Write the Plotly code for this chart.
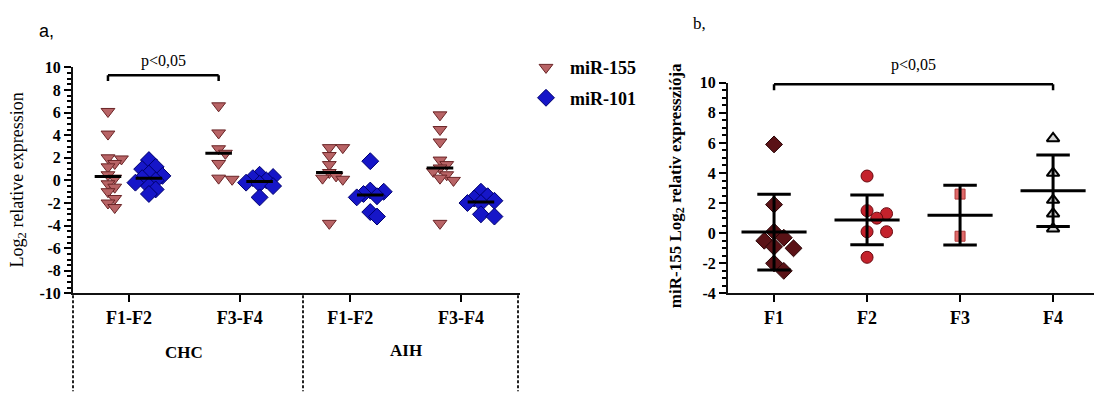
import numpy as np
import plotly.graph_objects as go

W, H = 1094, 403

# ---------------- data: panel a ----------------
groups_a = ["CHC", "AIH"]
categories_a = ["F1-F2", "F3-F4", "F1-F2", "F3-F4"]
series_a = ["miR-155", "miR-101"]
mir155 = [
    [6.1, 4.1, 2.0, 1.9, 1.5, 1.2, 0.5, 0.2, -0.3, -0.6, -1.0, -1.6, -2.0, -2.4],
    [6.6, 4.2, 2.8, 2.4, 1.5, 0.2, 0.1],
    [2.9, 2.9, 2.2, 1.4, 0.7, 0.4, 0.2, 0.1, -3.8],
    [5.8, 4.5, 3.4, 1.8, 1.4, 1.1, 0.8, 0.5, 0.2, 0.0, -3.8],
]
mir101 = [
    [1.8, 1.2, 1.0, 0.6, 0.4, 0.2, 0.0, -0.2, -0.5, -0.8, -1.2],
    [0.5, 0.3, 0.2, 0.0, -0.2, -0.3, -0.5, -1.5],
    [1.7, -0.9, -1.0, -1.2, -1.4, -1.5, -2.8, -3.2],
    [-1.0, -1.4, -1.6, -1.8, -2.0, -2.0, -3.0, -3.2],
]
yticks_a = [10, 8, 6, 4, 2, 0, -2, -4, -6, -8, -10]

# ---------------- data: panel b ----------------
categories_b = ["F1", "F2", "F3", "F4"]
b_values = [
    [5.9, 1.9, 0.1, -0.3, -0.5, -0.9, -1.0, -2.0, -2.5],
    [3.8, 1.5, 1.3, 1.0, 0.1, 0.1, -1.6],
    [2.6, -0.2],
    [6.3, 4.0, 2.2, 1.3, 0.3],
]
yticks_b = [10, 8, 6, 4, 2, 0, -2, -4]
p_text = "p<0,05"

SERIF = "Liberation Serif"


def px_x(px):
    return px / W


def px_y(py):
    return 1 - py / H


def swarm(vals, xscale, yscale, size):
    vals = np.asarray(vals, float)
    order = np.argsort(-vals)
    placed = []
    off = np.zeros(len(vals))
    cands = [0]
    for j in range(1, 12):
        cands += [j, -j]
    for i in order:
        y = vals[i] * yscale
        x = 0.0
        for c in cands:
            x = c * size * 0.75
            if all((x - a) ** 2 + (y - b) ** 2 >= (size * 0.8) ** 2 for a, b in placed):
                break
        placed.append((x, y))
        off[i] = x
    return off / xscale


fig = go.Figure()

# panel a geometry
xa_dom = [px_x(73), px_x(520)]
ya_dom = [px_y(298), px_y(62)]
xa_rng = [0.494, 4.533]
xa_scale = (520 - 73) / (xa_rng[1] - xa_rng[0])
ya_scale = (298 - 62) / 20.0

offs = {"miR-155": -0.19, "miR-101": 0.18}
styles = {
    "miR-155": dict(symbol="triangle-down", size=12, color="#b86466",
                    line=dict(color="#6a2426", width=1)),
    "miR-101": dict(symbol="diamond", size=13, color="#1616c8",
                    line=dict(color="#00006e", width=1)),
}
shapes = []
for name, data in (("miR-155", mir155), ("miR-101", mir101)):
    xs, ys = [], []
    for ci, vals in enumerate(data):
        c = ci + 1 + offs[name]
        o = swarm(vals, xa_scale, ya_scale, 9)
        xs += list(c + o)
        ys += list(vals)
        med = float(np.median(vals))
        shapes.append(dict(type="line", xref="x", yref="y", x0=c - 0.12, x1=c + 0.12,
                           y0=med, y1=med, line=dict(color="black", width=3), layer="above"))
    fig.add_trace(go.Scatter(x=xs, y=ys, mode="markers", name=name, legendgroup=name,
                             marker=styles[name], xaxis="x", yaxis="y", cliponaxis=False))

# bracket a
bx0 = 1 + offs["miR-155"]
bx1 = 2 + offs["miR-155"]
for seg in ((bx0, 8.8, bx0, 9.3), (bx0, 9.3, bx1, 9.3), (bx1, 9.3, bx1, 8.8)):
    shapes.append(dict(type="line", xref="x", yref="y", x0=seg[0], y0=seg[1], x1=seg[2], y1=seg[3],
                       line=dict(color="black", width=2.5)))

# panel b geometry
xb_dom = [px_x(728), 1.0]
yb_dom = [px_y(298), px_y(78)]
xb_rng = [0.505, 4.44]
xb_scale = (1094 - 728) / (xb_rng[1] - xb_rng[0])
yb_scale = (298 - 78) / 14.0
b_styles = [
    dict(symbol="diamond", size=13, color="#5a1216", line=dict(color="#2a0406", width=1)),
    dict(symbol="circle", size=12, color="#c4222c", line=dict(color="#6a0a10", width=1)),
    dict(symbol="square", size=10, color="#e06a6a", line=dict(color="#b03a3a", width=1)),
    dict(symbol="triangle-up", size=11, color="#d4d4d4", line=dict(color="black", width=2)),
]
for ci, vals in enumerate(b_values):
    c = ci + 1
    o = swarm(vals, xb_scale, yb_scale, 13)
    fig.add_trace(go.Scatter(x=list(c + o), y=vals, mode="markers", showlegend=False,
                             marker=b_styles[ci], xaxis="x2", yaxis="y2", cliponaxis=False))
    m = float(np.mean(vals))
    sd = float(np.std(vals, ddof=1))
    for seg in ((c - 0.35, m, c + 0.35, m), (c - 0.18, m + sd, c + 0.18, m + sd),
                (c - 0.18, m - sd, c + 0.18, m - sd), (c, m - sd, c, m + sd)):
        shapes.append(dict(type="line", xref="x2", yref="y2", x0=seg[0], y0=seg[1], x1=seg[2],
                           y1=seg[3], line=dict(color="black", width=3), layer="above"))

for seg in ((1, 9.5, 1, 9.9), (1, 9.9, 4, 9.9), (4, 9.9, 4, 9.5)):
    shapes.append(dict(type="line", xref="x2", yref="y2", x0=seg[0], y0=seg[1], x1=seg[2], y1=seg[3],
                       line=dict(color="black", width=2.5)))

# dashed group separators below axis a
for xp in (73, 303, 518):
    shapes.append(dict(type="line", xref="paper", yref="paper", x0=px_x(xp), x1=px_x(xp),
                       y0=px_y(300), y1=px_y(400),
                       line=dict(color="#222", width=2, dash="3px,2px")))


def ann(text, x, y, xref="paper", size=16, bold=False, family=SERIF, angle=0):
    f = dict(family=family, size=size, color="black")
    if bold:
        f["weight"] = "bold"
    return dict(text=text, x=x, y=y, xref=xref, yref="paper", showarrow=False,
                xanchor="center", yanchor="middle", textangle=angle, font=f)


annotations = [
    ann("a,", px_x(46), px_y(24), size=18, family="Liberation Sans"),
    ann("b,", px_x(699), px_y(16), size=17),
    ann(p_text, (bx0 + bx1) / 2, px_y(55), xref="x", size=16),
    ann(p_text, 2.5, px_y(60), xref="x2", size=16),
    ann(groups_a[0], 1.5, px_y(360), xref="x", size=17, bold=True),
    ann(groups_a[1], 3.5, px_y(358), xref="x", size=17, bold=True),
    ann("Log<sub>2</sub> relative expression", px_x(18), px_y(180), size=18, angle=-90),
    ann("miR-155 Log<sub>2</sub> relativ expressziója", px_x(677), px_y(186), size=17,
        bold=True, angle=-90),
]


def yaxis_cfg(dom, rng, anchor, vals):
    return dict(domain=dom, range=rng, anchor=anchor, showline=True, linecolor="#111",
                linewidth=2, showgrid=False, zeroline=False, tickmode="array", tickvals=vals,
                ticktext=["<b>%d</b>" % v for v in vals],
                ticks="outside", ticklen=7, tickwidth=2, tickcolor="#000",
                tickfont=dict(family=SERIF, size=16, color="black"),
                minor=dict(ticks="outside", tickmode="linear", tick0=0, dtick=0.5, ticklen=4,
                           tickwidth=1.5, tickcolor="#000", showgrid=False))


def xaxis_cfg(dom, rng, anchor, labels):
    return dict(domain=dom, range=rng, anchor=anchor, showline=True, linecolor="#111",
                linewidth=2, showgrid=False, zeroline=False, tickmode="array",
                tickvals=[1, 2, 3, 4], ticktext=["<b>%s</b>" % t for t in labels],
                ticks="outside", ticklen=7, tickwidth=2, tickcolor="#000",
                tickfont=dict(family=SERIF, size=18, color="black"))


fig.update_layout(
    width=W, height=H, margin=dict(l=0, r=0, t=0, b=0),
    paper_bgcolor="white", plot_bgcolor="white",
    shapes=shapes, annotations=annotations,
    xaxis=xaxis_cfg(xa_dom, xa_rng, "y", categories_a),
    yaxis=yaxis_cfg(ya_dom, [-10, 10], "x", yticks_a),
    xaxis2=xaxis_cfg(xb_dom, xb_rng, "y2", categories_b),
    yaxis2=yaxis_cfg(yb_dom, [-4, 10], "x2", yticks_b),
    legend=dict(x=px_x(522), y=px_y(43), xanchor="left", yanchor="top", itemwidth=38,
                font=dict(family=SERIF, size=18, color="black", weight="bold"),
                tracegroupgap=4, bgcolor="rgba(0,0,0,0)"),
)

fig.write_html("out.html")
